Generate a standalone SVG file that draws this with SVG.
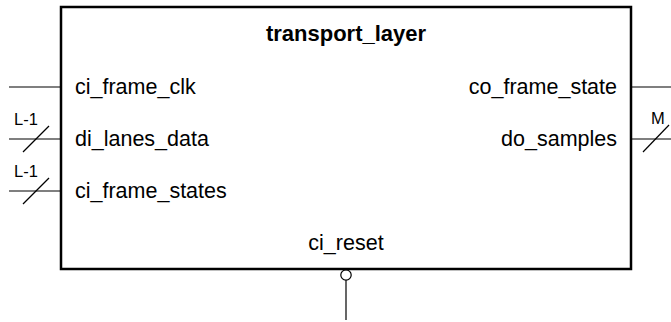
<svg xmlns="http://www.w3.org/2000/svg" width="671" height="322" viewBox="0 0 671 322">
  <style>
    .body { fill: #ffffff; stroke: #000000; stroke-width: 2.5; }
    .wire { stroke: #000000; stroke-width: 1.2; fill: none; }
    .port { font-family: "Liberation Sans", Arial, sans-serif; font-size: 21.5px; fill: #000000; }
    .title { font-family: "Liberation Sans", Arial, sans-serif; font-size: 22px; font-weight: bold; fill: #000000; }
    .width { font-family: "Liberation Sans", Arial, sans-serif; font-size: 16.5px; fill: #000000; }
  </style>
  <rect width="671" height="322" fill="#ffffff"/>

  <!-- external signal wires with bus-width marks -->
  <g id="connectors">
    <line class="wire" x1="9" y1="87" x2="61" y2="87"/>
    <line class="wire" x1="9" y1="139" x2="61" y2="139"/>
    <line class="wire" x1="23" y1="152" x2="49" y2="126"/>
    <text class="width" x="14" y="124.5">L-1</text>
    <line class="wire" x1="9" y1="191" x2="61" y2="191"/>
    <line class="wire" x1="23" y1="204" x2="49" y2="178"/>
    <text class="width" x="14" y="176.5">L-1</text>
    <line class="wire" x1="631" y1="87" x2="671" y2="87"/>
    <line class="wire" x1="631" y1="139" x2="671" y2="139"/>
    <line class="wire" x1="643" y1="152" x2="669" y2="125"/>
    <text class="width" x="651" y="124">M</text>
    <line class="wire" x1="346" y1="280" x2="346" y2="320"/>
    <circle cx="346" cy="275" r="5.2" fill="#ffffff" stroke="#000000" stroke-width="1.2"/>
  </g>

  <!-- block -->
  <g id="transport_layer">
    <rect class="body" x="61" y="7" width="570" height="262"/>
    <text class="title" x="346" y="41" text-anchor="middle">transport_layer</text>
    <text class="port" x="75" y="94">ci_frame_clk</text>
    <text class="port" x="75" y="146">di_lanes_data</text>
    <text class="port" x="75" y="198">ci_frame_states</text>
    <text class="port" x="617" y="94" text-anchor="end">co_frame_state</text>
    <text class="port" x="617" y="146" text-anchor="end">do_samples</text>
    <text class="port" x="346" y="250" text-anchor="middle">ci_reset</text>
  </g>
</svg>
